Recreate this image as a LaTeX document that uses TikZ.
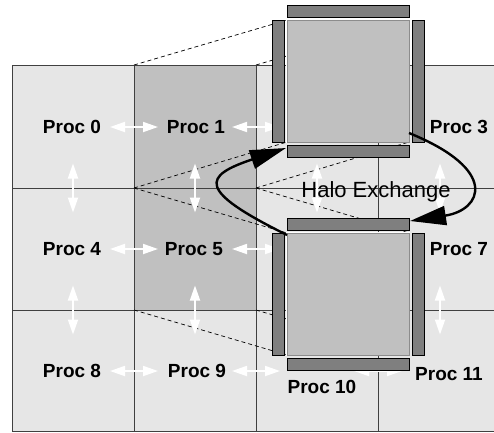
\documentclass[tikz,border=0pt]{standalone}
\usepackage{fontspec}
\setmainfont{Liberation Sans}
\usetikzlibrary{arrows.meta}
\definecolor{cellLight}{HTML}{E6E6E6}
\definecolor{cellDark}{HTML}{C0C0C0}
\definecolor{gridLine}{HTML}{404040}
\definecolor{haloBar}{HTML}{7F7F7F}
\definecolor{coreEdge}{HTML}{8C8C8C}
\tikzset{
  cellbox/.style={fill=cellLight,draw=gridLine,line width=0.9pt},
  darkcell/.style={fill=cellDark,draw=gridLine,line width=0.9pt},
  zoomline/.style={draw=black,line width=0.7pt,dash pattern=on 4pt off 3pt},
  swap/.style={draw=white,line width=1.8pt,{Triangle[length=15pt,width=10pt]}-{Triangle[length=15pt,width=10pt]}},
  halobar/.style={fill=haloBar,draw=black,line width=0.8pt},
  corebox/.style={fill=cellDark,draw=coreEdge,line width=0.8pt},
  proclabel/.style={font=\bfseries\fontsize{19}{22}\selectfont,anchor=base,inner sep=0pt},
  exchange/.style={draw=black,line width=2.4pt,-{Triangle[length=36pt,width=19pt]}}
}
\begin{document}
\begin{tikzpicture}[x=1pt,y=-1pt]
\useasboundingbox (0,0) rectangle (494,432);
\begin{scope}
\clip (0,0) rectangle (494,432);
% process grid
\fill[cellLight] (12,65) rectangle (500,431);
\fill[cellDark] (134,65) rectangle (256,310);
\draw[gridLine,line width=0.9pt] (12,65) -- (500,65) (12,188) -- (500,188) (12,310) -- (500,310)
  (12,431) -- (500,431)
  (12,65) -- (12,431) (134,65) -- (134,431) (256,65) -- (256,431) (378,65) -- (378,431);
\end{scope}

% corners of the two enlarged subdomains
\coordinate (c1tl) at (134,65);  \coordinate (c1tr) at (256,65);
\coordinate (c1bl) at (134,188); \coordinate (c1br) at (256,188);
\coordinate (c5bl) at (134,310); \coordinate (c5br) at (256,310);
\coordinate (ztl) at (287,20);  \coordinate (ztr) at (409,20);
\coordinate (zbl) at (287,142); \coordinate (zbr) at (409,142);
\coordinate (wtl) at (287,233); \coordinate (wtr) at (409,233);
\coordinate (wbl) at (287,355); \coordinate (wbr) at (409,355);

% projection lines
\draw[zoomline] (c1tl) -- (ztl) (c1tr) -- (ztr) (c1bl) -- (zbl) (c1br) -- (zbr);
\draw[zoomline] (c1bl) -- (wtl) (c1br) -- (wtr) (c5bl) -- (wbl) (c5br) -- (wbr);

% neighbour exchanges between cells
\foreach \y in {127,249,371}{
  \foreach \x in {134,256,378}{
    \coordinate (hl) at (\x-24,\y); \coordinate (hr) at (\x+24,\y);
    \draw[swap] (hl) -- (hr);
  }
}
\foreach \x in {73,195,317,440}{
  \foreach \y in {188,310}{
    \coordinate (vt) at (\x,\y-24.5); \coordinate (vb) at (\x,\y+24.5);
    \draw[swap] (vt) -- (vb);
  }
}

% enlarged subdomains with halo strips
\foreach \dy/\nm in {0/top,213/bot}{
  \begin{scope}[yshift=-\dy pt]
    \draw[white,line width=2.4pt] (287,20) rectangle (409,142);
    \filldraw[corebox] (287,20) rectangle (409,142) node[pos=0.5] (core\nm) {};
    \filldraw[halobar] (287,5) rectangle (409,17);
    \filldraw[halobar] (287,145) rectangle (409,157);
    \filldraw[halobar] (272,20) rectangle (284,142);
    \filldraw[halobar] (412,20) rectangle (424,142);
  \end{scope}
}

% labels
\node[proclabel] (p0)  at (72,133)  {Proc 0};
\node[proclabel] (p1)  at (196,133) {Proc 1};
\node[proclabel] (p3)  at (459,133) {Proc 3};
\node[proclabel] (p4)  at (72,255)  {Proc 4};
\node[proclabel] (p5)  at (194,255) {Proc 5};
\node[proclabel] (p7)  at (459,255) {Proc 7};
\node[proclabel] (p8)  at (72,377)  {Proc 8};
\node[proclabel] (p9)  at (197,377) {Proc 9};
\node[proclabel] (p10) at (322,393) {Proc 10};
\node[proclabel] (p11) at (449,380) {Proc 11};
\node[font=\fontsize{22}{26}\selectfont,anchor=base,inner sep=0pt] (halo) at (376,197) {Halo Exchange};

% halo exchange arrows
\coordinate (aS) at (287,235);
\coordinate (aT) at (286,148);
\coordinate (bS) at (409,133);
\coordinate (bT) at (410,221);
\draw[exchange] (aS) .. controls (196,190) and (203,176) .. (aT);
\draw[exchange] (bS) .. controls (500,170) and (482,210) .. (bT);
\end{tikzpicture}
\end{document}
